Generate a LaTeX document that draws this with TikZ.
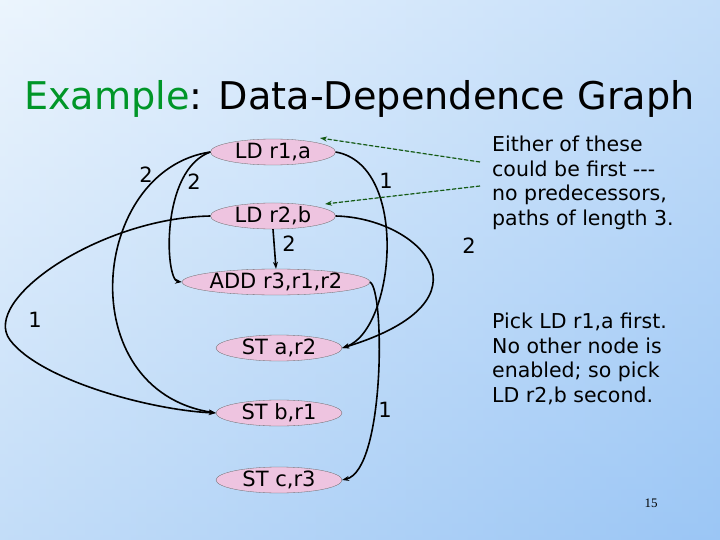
\documentclass[tikz,border=0pt]{standalone}
\usepackage{fontspec}
\setmainfont{DejaVu Sans}
\usetikzlibrary{shapes.geometric,arrows.meta}
\newfontfamily\pagefont{Liberation Serif}
\definecolor{bgA}{RGB}{236,245,253}
\definecolor{bgB}{RGB}{155,198,245}
\definecolor{nodepink}{RGB}{238,196,224}
\definecolor{titlegreen}{RGB}{0,150,40}
\definecolor{dashgreen}{RGB}{20,90,20}
\begin{document}
\begin{tikzpicture}[x=1pt,y=-1pt,
  op/.style={ellipse,draw=black!60,line width=0.3pt,fill=nodepink,inner sep=0pt,minimum height=26pt,font=\fontsize{21}{24}\selectfont},
  dep/.style={-{Stealth[length=7pt,width=5pt]},line width=1.6pt},
  lab/.style={font=\fontsize{21}{24}\selectfont,inner sep=0pt},
  hint/.style={-{Stealth[length=7pt,width=5pt]},dash pattern=on 4pt off 2pt,line width=1.2pt,draw=dashgreen,fill=dashgreen},
  txt/.style={align=left,anchor=north west,inner sep=0pt,font=\fontsize{20.5}{24.5}\selectfont}]
\useasboundingbox (0,0) rectangle (720,540);
\shade[left color=bgA,right color=bgB] (0,0) rectangle (720,540);
\shade[top color=bgA,bottom color=bgB,opacity=0.5] (0,0) rectangle (720,540);
\node[anchor=base west,inner sep=0pt,font=\fontsize{38.2}{44}\selectfont] (title) at (24,110) {\textcolor{titlegreen}{Example}: Data-Dependence Graph};
\node[op,minimum width=125pt] (a) at (273,152) {LD r1,a};
\node[op,minimum width=125pt] (b) at (273,216) {LD r2,b};
\node[op,minimum width=168pt] (c) at (276,282) {ADD r3,r1,r2};
\node[op,minimum width=126pt] (d) at (279,348) {ST a,r2};
\node[op,minimum width=126pt] (e) at (279,413) {ST b,r1};
\node[op,minimum width=126pt] (f) at (279,480) {ST c,r3};
\draw[dep] (a.west) .. controls (90,170) and (70,390) .. (e.west);
\draw[dep] (a.west) .. controls (160,170) and (165,280) .. (c.west);
\draw[dep] (b.south) -- (c.north);
\draw[dep] (a.east) .. controls (410,165) and (395,330) .. (d.east);
\draw[dep] (b.west) .. controls (100,218) and (-20,300) .. (10,340) .. controls (40,380) and (150,410) .. (e.west);
\draw[dep] (b.east) .. controls (420,218) and (500,300) .. (d.east);
\draw[dep] (c.east) .. controls (385,290) and (385,470) .. (f.east);
\node[lab] (l1) at (146,175) {2};
\node[lab] (l2) at (194,182) {2};
\node[lab] (l3) at (289,244) {2};
\node[lab] (l4) at (386,181) {1};
\node[lab] (l5) at (35,320) {1};
\node[lab] (l6) at (469,246) {2};
\node[lab] (l7) at (385,410) {1};
\node[txt] (t1) at (492,136) {Either of these\\could be first {-}{-}{-}\\no predecessors,\\paths of length 3.};
\node[txt] (t2) at (492,313) {Pick LD r1,a first.\\No other node is\\enabled; so pick\\LD r2,b second.};
\coordinate (h1) at (480,162);
\coordinate (h2) at (480,186);
\draw[hint] (h1) -- (320,138);
\draw[hint] (h2) -- (325,204);
\node[inner sep=0pt,font=\pagefont\fontsize{13}{15}\selectfont] (pg) at (651,503) {15};
\end{tikzpicture}
\end{document}
